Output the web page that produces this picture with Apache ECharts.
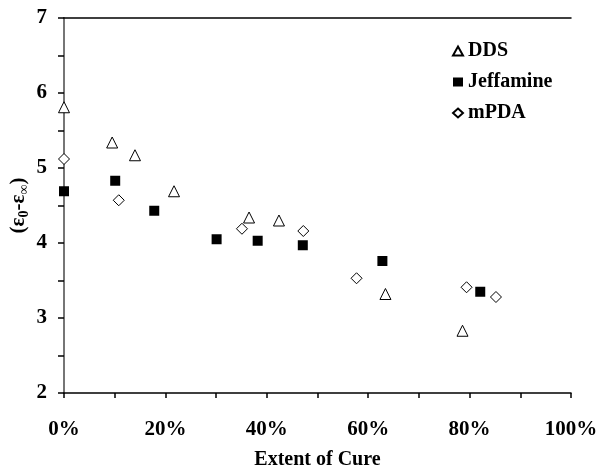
<!DOCTYPE html>
<html style="height: 100%">
<head>
    <meta charset="utf-8">
    <script src="https://cdn.jsdelivr.net/npm/echarts@6/dist/echarts.min.js"></script>
</head>
<body style="height: 100%; margin: 0; background: #fff">
    <div id="main" style="width: 601px; height: 467px"></div>
    <script type="text/javascript">
        // extent of cure (%) , (eps0 - epsInf)
        var ddsData = [
            [0, 5.81], [9.5, 5.34], [14.0, 5.17], [21.7, 4.69],
            [36.5, 4.34], [42.4, 4.30], [63.4, 3.32], [78.6, 2.83]
        ];
        var jeffamineData = [
            [0, 4.69], [10.1, 4.83], [17.8, 4.43], [30.1, 4.05],
            [38.2, 4.03], [47.1, 3.97], [62.8, 3.76], [82.1, 3.35]
        ];
        var mpdaData = [
            [0, 5.12], [10.8, 4.57], [35.1, 4.19], [47.2, 4.16],
            [57.7, 3.53], [79.4, 3.41], [85.2, 3.28]
        ];
        var seriesNames = ['DDS', 'Jeffamine', 'mPDA'];

        var fontFam = '"Liberation Serif", "Times New Roman", serif';
        var myChart = echarts.init(document.getElementById('main'));

        var option = {
            backgroundColor: '#fff',
            animation: false,
            grid: { left: 64, right: 30, top: 18, bottom: 74, containLabel: false, outerBoundsMode: 'none' },
            legend: {
                orient: 'vertical',
                left: 447,
                top: 36,
                itemWidth: 10,
                itemHeight: 9,
                itemGap: 11,
                textStyle: { fontFamily: fontFam, fontWeight: 'bold', fontSize: 20, color: '#000', lineHeight: 20 },
                data: seriesNames
            },
            xAxis: [{
                type: 'value',
                min: 0, max: 100, interval: 10,
                name: 'Extent of Cure',
                nameLocation: 'middle',
                nameGap: 57,
                nameTextStyle: { fontFamily: fontFam, fontWeight: 'bold', fontSize: 20, color: '#000' },
                axisLine: { show: true, onZero: false, lineStyle: { color: '#000', width: 1.5 } },
                axisTick: { show: true, inside: false, length: 5, lineStyle: { color: '#000', width: 1.5 } },
                axisLabel: {
                    margin: 26,
                    fontFamily: fontFam, fontWeight: 'bold', fontSize: 21, color: '#000',
                    formatter: function (v) { return v % 20 === 0 ? v + '%' : ''; }
                },
                splitLine: { show: false }
            }, {
                type: 'value', position: 'top', min: 0, max: 100,
                axisLine: { show: true, lineStyle: { color: '#000', width: 1.5 } },
                axisTick: { show: false }, axisLabel: { show: false }, splitLine: { show: false }
            }],
            yAxis: [{
                type: 'value',
                min: 2, max: 7, interval: 0.5,
                name: '(ε{sub|0}-ε{sub|∞})',
                nameLocation: 'middle',
                nameGap: 33,
                nameMoveOverlap: false,
                nameTextStyle: {
                    fontFamily: fontFam, fontWeight: 'bold', fontSize: 21, color: '#000',
                    rich: { sub: { fontFamily: fontFam, fontSize: 14, fontWeight: 'bold', verticalAlign: 'bottom', padding: [10, 0, 0, 0] } }
                },
                axisLine: { show: true, onZero: false, lineStyle: { color: '#000', width: 1.5 } },
                axisTick: { show: true, inside: false, length: 6, lineStyle: { color: '#000', width: 1.5 } },
                axisLabel: {
                    margin: 17,
                    fontFamily: fontFam, fontWeight: 'bold', fontSize: 21, color: '#000',
                    formatter: function (v) { return v % 1 === 0 ? String(v) : ''; }
                },
                splitLine: { show: false }
            }, {
                type: 'value', position: 'right', min: 2, max: 7,
                axisLine: { show: true, lineStyle: { color: '#888', width: 1.5 } },
                axisTick: { show: false }, axisLabel: { show: false }, splitLine: { show: false }
            }],
            series: [{
                name: 'DDS',
                type: 'scatter',
                symbol: 'triangle',
                symbolSize: 11,
                itemStyle: { color: '#fff', borderColor: '#000', borderWidth: 1, opacity: 1 },
                data: ddsData
            }, {
                name: 'Jeffamine',
                type: 'scatter',
                symbol: 'rect',
                symbolSize: 10,
                itemStyle: { color: '#000', borderColor: '#000', borderWidth: 0, opacity: 1 },
                data: jeffamineData
            }, {
                name: 'mPDA',
                type: 'scatter',
                symbol: 'diamond',
                symbolSize: 11,
                itemStyle: { color: '#fff', borderColor: '#000', borderWidth: 1, opacity: 1 },
                data: mpdaData
            }]
        };
        myChart.setOption(option);
    </script>
</body>
</html>
